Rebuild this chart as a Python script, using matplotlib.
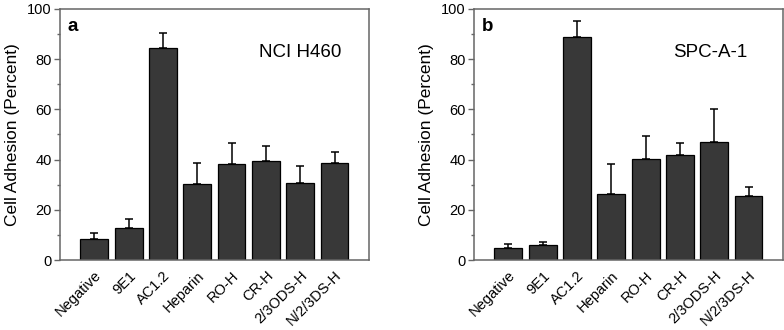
import matplotlib.pyplot as plt

plt.rcParams['font.family'] = ['Liberation Sans', 'DejaVu Sans']

# data
labels = ['Negative', '9E1', 'AC1.2', 'Heparin', 'RO-H', 'CR-H', '2/3ODS-H', 'N/2/3DS-H']
h460_mean = [8.5, 12.7, 84.6, 30.4, 38.3, 39.3, 30.8, 38.5]
h460_err = [2.1, 3.5, 5.7, 8.3, 8.5, 6.1, 6.6, 4.6]
spc_mean = [4.8, 5.8, 88.7, 26.3, 40.2, 41.8, 47.2, 25.5]
spc_err = [1.6, 1.5, 6.3, 11.9, 9.1, 5.0, 12.9, 3.4]

panels = [
    ('a', 'NCI H460', h460_mean, h460_err, [0.0765, 0.212, 0.394, 0.761], 0.777),
    ('b', 'SPC-A-1', spc_mean, spc_err, [0.6046, 0.212, 0.394, 0.761], 0.764),
]

fig = plt.figure(figsize=(7.84, 3.30), dpi=100)
x = list(range(1, len(labels) + 1))
spine_col = '#666666'

for letter, name, mean, err, rect, tx in panels:
    ax = fig.add_axes(rect)
    ax.bar(x, mean, width=0.81, color='#383838', edgecolor='black', linewidth=0.9, zorder=2)
    ax.errorbar(x, mean, yerr=[[0] * len(err), err], fmt='none', ecolor='black',
                elinewidth=1.1, capsize=3, capthick=1.1, zorder=1)
    ax.set_xlim(0, 9)
    ax.set_ylim(0, 100)
    ax.set_yticks([0, 20, 40, 60, 80, 100])
    ax.set_yticks([10, 30, 50, 70, 90], minor=True)
    ax.set_xticks(x)
    ax.set_xticklabels(labels, rotation=45, ha='right', rotation_mode='anchor', fontsize=10.5)
    ax.tick_params(axis='x', length=0, pad=6)
    ax.tick_params(axis='y', which='major', length=4, width=1, color=spine_col, labelsize=10.5, pad=2)
    ax.tick_params(axis='y', which='minor', length=2.5, width=1, color=spine_col)
    for s in ax.spines.values():
        s.set_color(spine_col)
        s.set_linewidth(1.1)
    ax.set_ylabel('Cell Adhesion (Percent)', fontsize=12.5, labelpad=5)
    ax.text(0.025, 0.93, letter, transform=ax.transAxes, fontsize=13.5, fontweight='bold',
            ha='left', va='center')
    ax.text(tx, 0.825, name, transform=ax.transAxes, fontsize=13.5, ha='center', va='center')

fig.savefig('out.png', dpi=100)
